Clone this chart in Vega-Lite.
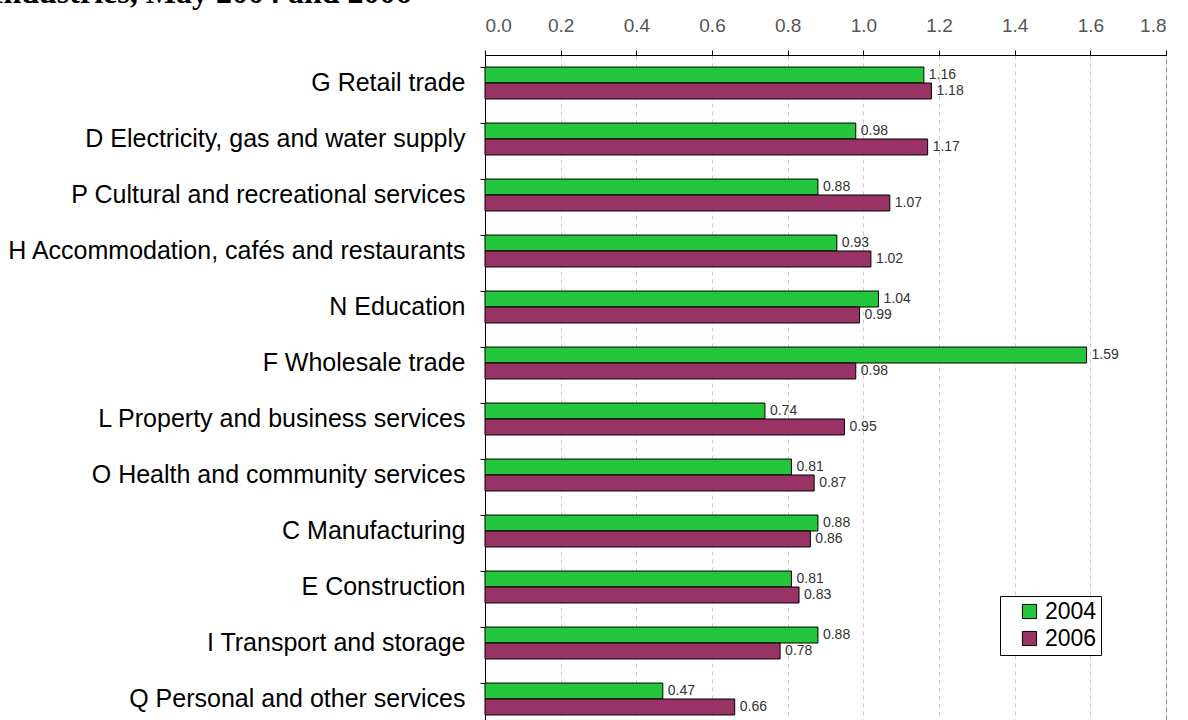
{
  "$schema": "https://vega.github.io/schema/vega-lite/v6.json",
  "autosize": {"type": "none"},
  "padding": {"left": 485, "top": 55, "right": 21, "bottom": 0},
  "width": 681,
  "height": 672,
  "background": "white",
  "title": {
    "text": "Industries, May 2004 and 2006",
    "anchor": "start",
    "frame": "group",
    "dx": -494,
    "dy": 19,
    "baseline": "alphabetic",
    "offset": 0,
    "font": "Liberation Serif",
    "fontSize": 32,
    "fontWeight": "bold",
    "color": "black"
  },
  "config": {
    "view": {"stroke": "#888888", "strokeWidth": 1},
    "font": "Liberation Sans"
  },
  "data": {
    "values": [
      {"industry": "G Retail trade", "year": "2004", "value": 1.16},
      {"industry": "G Retail trade", "year": "2006", "value": 1.18},
      {"industry": "D Electricity, gas and water supply", "year": "2004", "value": 0.98},
      {"industry": "D Electricity, gas and water supply", "year": "2006", "value": 1.17},
      {"industry": "P Cultural and recreational services", "year": "2004", "value": 0.88},
      {"industry": "P Cultural and recreational services", "year": "2006", "value": 1.07},
      {"industry": "H Accommodation, cafés and restaurants", "year": "2004", "value": 0.93},
      {"industry": "H Accommodation, cafés and restaurants", "year": "2006", "value": 1.02},
      {"industry": "N Education", "year": "2004", "value": 1.04},
      {"industry": "N Education", "year": "2006", "value": 0.99},
      {"industry": "F Wholesale trade", "year": "2004", "value": 1.59},
      {"industry": "F Wholesale trade", "year": "2006", "value": 0.98},
      {"industry": "L Property and business services", "year": "2004", "value": 0.74},
      {"industry": "L Property and business services", "year": "2006", "value": 0.95},
      {"industry": "O Health and community services", "year": "2004", "value": 0.81},
      {"industry": "O Health and community services", "year": "2006", "value": 0.87},
      {"industry": "C Manufacturing", "year": "2004", "value": 0.88},
      {"industry": "C Manufacturing", "year": "2006", "value": 0.86},
      {"industry": "E Construction", "year": "2004", "value": 0.81},
      {"industry": "E Construction", "year": "2006", "value": 0.83},
      {"industry": "I Transport and storage", "year": "2004", "value": 0.88},
      {"industry": "I Transport and storage", "year": "2006", "value": 0.78},
      {"industry": "Q Personal and other services", "year": "2004", "value": 0.47},
      {"industry": "Q Personal and other services", "year": "2006", "value": 0.66}
    ]
  },
  "encoding": {
    "y": {
      "field": "industry",
      "type": "nominal",
      "sort": null,
      "scale": {"paddingInner": 0.43, "paddingOuter": 0.215},
      "axis": {
        "title": null,
        "labelFontSize": 25,
        "labelColor": "black",
        "labelPadding": 15,
        "bandPosition": 0,
        "tickSize": 5,
        "tickColor": "black",
        "domainColor": "black",
        "labelLimit": 500
      }
    },
    "yOffset": {"field": "year", "type": "nominal", "scale": {"paddingInner": 0}},
    "x": {
      "field": "value",
      "type": "quantitative",
      "scale": {"domain": [0, 1.8], "nice": false},
      "axis": {
        "orient": "top",
        "title": null,
        "values": [0, 0.2, 0.4, 0.6, 0.8, 1.0, 1.2, 1.4, 1.6, 1.8],
        "format": ".1f",
        "labelFontSize": 19,
        "labelColor": "#555555",
        "labelPadding": 15,
        "tickSize": 5,
        "tickColor": "black",
        "domainColor": "black",
        "grid": true,
        "gridColor": "#cccccc",
        "gridDash": [4, 4]
      }
    }
  },
  "layer": [
    {
      "mark": {"type": "bar", "stroke": "black", "strokeWidth": 1},
      "encoding": {
        "color": {
          "field": "year",
          "type": "nominal",
          "scale": {"domain": ["2004", "2006"], "range": ["#25c63c", "#993366"]},
          "legend": {
            "title": null,
            "orient": "none",
            "legendX": 515,
            "legendY": 541,
            "labelFontSize": 23,
            "labelColor": "black",
            "symbolType": "square",
            "symbolSize": 200,
            "symbolStrokeColor": "black",
            "symbolStrokeWidth": 1,
            "symbolOffset": 14,
            "strokeColor": "black",
            "fillColor": "white",
            "padding": 4,
            "rowPadding": 3,
            "labelOffset": 4
          }
        }
      }
    },
    {
      "mark": {"type": "text", "align": "left", "baseline": "middle", "dx": 5, "fontSize": 14, "color": "#333333"},
      "encoding": {
        "text": {"field": "value", "type": "quantitative", "format": ".2f"}
      }
    }
  ]
}
